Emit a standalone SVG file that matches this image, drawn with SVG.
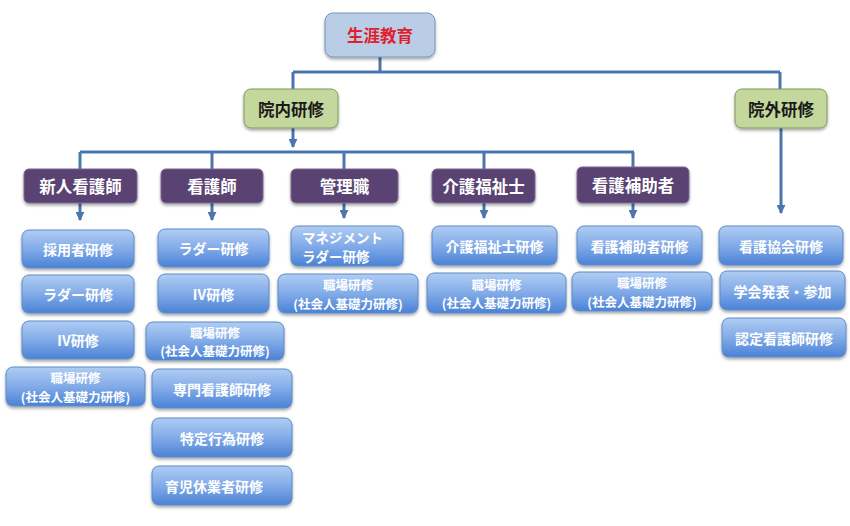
<svg xmlns="http://www.w3.org/2000/svg" width="850" height="526" viewBox="0 0 850 526">
<defs>
<linearGradient id="gb" x1="0" y1="0" x2="0" y2="1"><stop offset="0" stop-color="#b0cdf3"/><stop offset="0.5" stop-color="#82abe8"/><stop offset="1" stop-color="#4a82d6"/></linearGradient>
<filter id="sh" x="-10%" y="-10%" width="120%" height="140%"><feDropShadow dx="0" dy="2" stdDeviation="1.5" flood-color="#000" flood-opacity="0.35"/></filter>
<marker id="ah" viewBox="0 0 10 10" refX="5" refY="9" markerWidth="9" markerHeight="9" orient="0" markerUnits="userSpaceOnUse"><path d="M0,0 L10,0 L5,10 z" fill="#4a76ad"/></marker>
</defs>
<style>
text{font-family:"Noto Sans CJK JP","Noto Sans",sans-serif;font-weight:bold;text-anchor:middle;dominant-baseline:central}
.b rect{fill:url(#gb);stroke:#5d8ac8;stroke-width:1;filter:url(#sh)}
.b text{fill:#fff;font-size:14px}
.b text.s{font-size:12.5px}
.p rect{fill:#5a4272;stroke:#7d6b93;stroke-width:1;filter:url(#sh)}
.p text{fill:#fff;font-size:16.5px}
.g rect{fill:#c4d79d;stroke:#7f9a5c;stroke-width:1;filter:url(#sh)}
.g text{fill:#1a1a1a;font-size:16.5px}
.t rect{fill:#b9cde6;stroke:#7a96bb;stroke-width:1;filter:url(#sh)}
.t text{fill:#e0202a;font-size:16.5px}
.c path{fill:none;stroke:#4a76ad;stroke-width:3}
</style>
<g id="connectors" class="c">
<path d="M380,57 V72"/>
<path d="M293,72 H780"/>
<path d="M293,72 V89"/>
<path d="M780,72 V89"/>
<path d="M293,128 V147" marker-end="url(#ah)"/>
<path d="M80,152 H634"/>
<path d="M80,152 V169"/><path d="M212,152 V169"/><path d="M344,152 V169"/><path d="M484,152 V169"/><path d="M633,152 V167"/>
<path d="M80,203 V220" marker-end="url(#ah)"/>
<path d="M212,203 V220" marker-end="url(#ah)"/>
<path d="M344,203 V218" marker-end="url(#ah)"/>
<path d="M484,203 V218" marker-end="url(#ah)"/>
<path d="M633,203 V218" marker-end="url(#ah)"/>
<path d="M781,128 V213" marker-end="url(#ah)"/>
</g>
<g id="n-top" class="t"><rect x="325" y="13" width="110" height="44" rx="8"/><text x="380" y="35">生涯教育</text></g>
<g id="n-innai" class="g"><rect x="244" y="89" width="94" height="39" rx="7"/><text x="291" y="108.5">院内研修</text></g>
<g id="n-ingai" class="g"><rect x="735" y="89" width="92" height="39" rx="7"/><text x="781" y="108.5">院外研修</text></g>
<g id="n-shinjin" class="p"><rect x="24" y="169" width="113" height="34" rx="5"/><text x="80.5" y="186">新人看護師</text></g>
<g id="n-kangoshi" class="p"><rect x="161" y="169" width="102" height="34" rx="5"/><text x="212" y="186">看護師</text></g>
<g id="n-kanri" class="p"><rect x="291" y="169" width="107" height="34" rx="5"/><text x="344.5" y="186">管理職</text></g>
<g id="n-kaigo" class="p"><rect x="432" y="169" width="103" height="34" rx="5"/><text x="483.5" y="186">介護福祉士</text></g>
<g id="n-hojo" class="p"><rect x="577" y="167" width="112" height="36" rx="5"/><text x="633" y="185">看護補助者</text></g>

<g id="n-a1" class="b"><rect x="22" y="230" width="112" height="38" rx="7"/><text x="78" y="249">採用者研修</text></g>
<g id="n-a2" class="b"><rect x="22" y="275" width="112" height="38" rx="7"/><text x="78" y="294">ラダー研修</text></g>
<g id="n-a3" class="b"><rect x="22" y="321" width="112" height="38" rx="7"/><text x="78" y="340">IV研修</text></g>
<g id="n-a4" class="b"><rect x="6" y="367" width="139" height="39" rx="7"/><text class="s" x="75.5" y="377.5">職場研修</text><text class="s" x="75.5" y="396">(社会人基礎力研修)</text></g>

<g id="n-b1" class="b"><rect x="158" y="229" width="111" height="38" rx="7"/><text x="213.5" y="248">ラダー研修</text></g>
<g id="n-b2" class="b"><rect x="158" y="274" width="111" height="39" rx="7"/><text x="213.5" y="293.5">IV研修</text></g>
<g id="n-b3" class="b"><rect x="146" y="322" width="138" height="38" rx="7"/><text class="s" x="215" y="332">職場研修</text><text class="s" x="215" y="350.5">(社会人基礎力研修)</text></g>
<g id="n-b4" class="b"><rect x="152" y="369" width="140" height="39" rx="7"/><text x="222" y="388.5">専門看護師研修</text></g>
<g id="n-b5" class="b"><rect x="152" y="418" width="140" height="39" rx="7"/><text x="222" y="437.5">特定行為研修</text></g>
<g id="n-b6" class="b"><rect x="152" y="466" width="140" height="39" rx="7"/><text x="214" y="485.5">育児休業者研修</text></g>

<g id="n-c1" class="b"><rect x="291" y="226" width="112" height="40" rx="7"/><text class="s" x="302" y="236.5" style="text-anchor:start;font-size:13.5px">マネジメント</text><text class="s" x="302" y="255.5" style="text-anchor:start;font-size:13.5px">ラダー研修</text></g>
<g id="n-c2" class="b"><rect x="278" y="274" width="140" height="39" rx="7"/><text class="s" x="348" y="284.5">職場研修</text><text class="s" x="348" y="303">(社会人基礎力研修)</text></g>

<g id="n-d1" class="b"><rect x="432" y="226" width="125" height="39" rx="7"/><text x="494.5" y="245.5">介護福祉士研修</text></g>
<g id="n-d2" class="b"><rect x="427" y="273" width="139" height="40" rx="7"/><text class="s" x="496.5" y="284">職場研修</text><text class="s" x="496.5" y="302.5">(社会人基礎力研修)</text></g>

<g id="n-e1" class="b"><rect x="577" y="226" width="125" height="39" rx="7"/><text x="639.5" y="245.5">看護補助者研修</text></g>
<g id="n-e2" class="b"><rect x="572" y="272" width="140" height="39" rx="7"/><text class="s" x="642" y="282.5">職場研修</text><text class="s" x="642" y="301">(社会人基礎力研修)</text></g>

<g id="n-f1" class="b"><rect x="719" y="226" width="124" height="39" rx="7"/><text x="781" y="245.5">看護協会研修</text></g>
<g id="n-f2" class="b"><rect x="720" y="271" width="125" height="39" rx="7"/><text x="782.5" y="290.5">学会発表・参加</text></g>
<g id="n-f3" class="b"><rect x="722" y="318" width="124" height="39" rx="7"/><text x="784" y="337.5">認定看護師研修</text></g>
</svg>
